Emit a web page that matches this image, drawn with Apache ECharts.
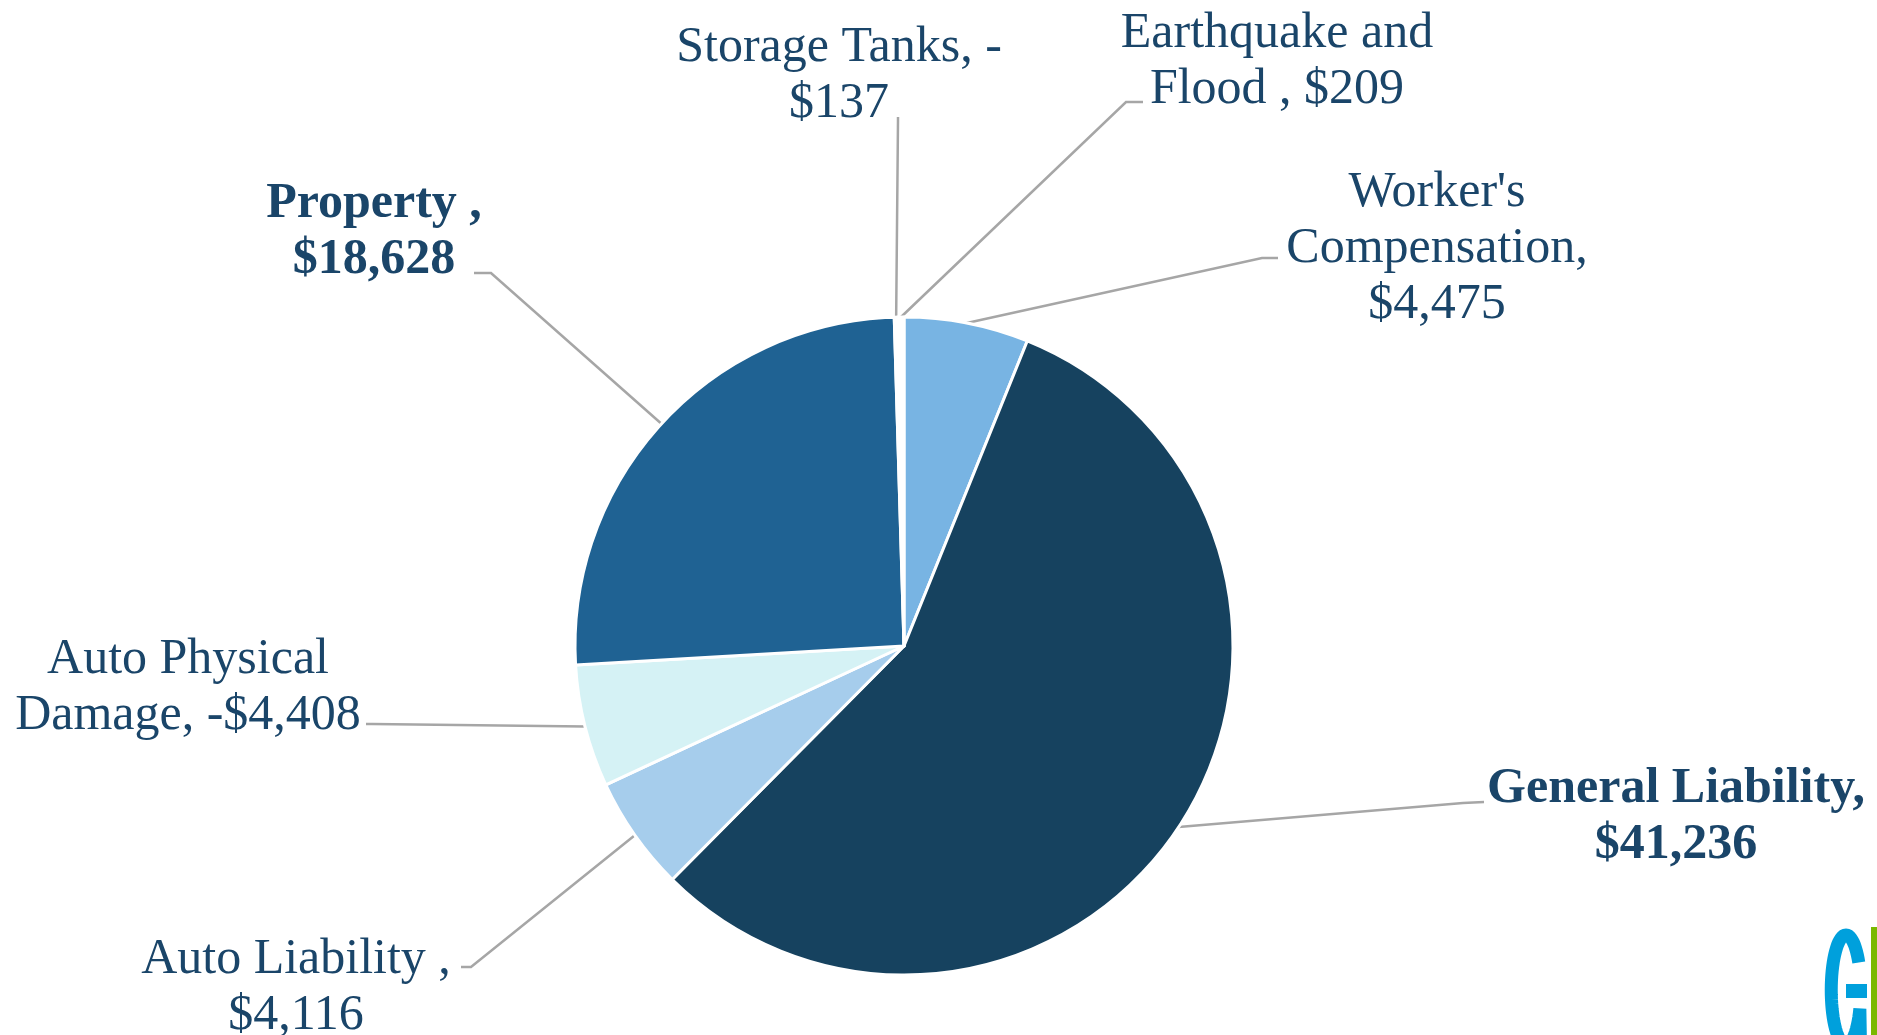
<!DOCTYPE html>
<html>
<head>
<meta charset="utf-8">
<script src="https://cdn.jsdelivr.net/npm/echarts@6/dist/echarts.min.js"></script>
<style>
  html, body { margin: 0; padding: 0; background: #ffffff; }
  #chart { width: 1877px; height: 1035px; }
</style>
</head>
<body>
<div id="chart"></div>
<script>
// ---- data (clockwise from 12 o'clock) ----
const categories = [
  "Worker's\nCompensation",
  "General Liability",
  "Auto Liability ",
  "Auto Physical\nDamage",
  "Property ",
  "Storage Tanks",
  "Earthquake and\nFlood "
];
const values = [4475, 41236, 4116, -4408, 18628, -137, 209];

// ---- styling / layout (not data) ----
const sliceColors = ['#78b4e3', '#16425f', '#a6cdec', '#d5f2f5', '#1f6293', '#ffffff', '#ffffff'];
const boldLabel = [false, true, false, false, true, false, false];
const valueOnNewLine = [true, true, true, false, true, true, false];
// label block centre (x,y), leader elbow (bx,by) and end (ex,ey) in px
const labelPlace = [
  { x: 1437, y: 249, bx: 1262, by: 258, ex: 1278, ey: 258 },
  { x: 1676, y: 817, bx: 1463, by: 803, ex: 1484, ey: 802 },
  { x: 296,  y: 988, bx: 471,  by: 967, ex: 461,  ey: 967 },
  { x: 188,  y: 688, bx: 372,  by: 724, ex: 366,  ey: 724 },
  { x: 374,  y: 232, bx: 491,  by: 273, ex: 474,  ey: 273 },
  { x: 839,  y: 76,  bx: 898,  by: 120, ex: 898,  ey: 117 },
  { x: 1277, y: 62,  bx: 1126, by: 102, ex: 1143, ey: 102 }
];

function money(v) {
  return '$' + Math.abs(v).toLocaleString('en-US');
}
function labelText(i) {
  const v = values[i];
  const sign = v < 0 ? '-' : '';
  const name = categories[i];
  if (valueOnNewLine[i]) {
    return name + ',' + (sign ? ' ' + sign : '') + '\n' + money(v);
  }
  return name + ', ' + sign + money(v);
}

const textColor = '#1a4569';
const data = categories.map(function (c, i) {
  return {
    name: c,
    value: Math.abs(values[i]),
    itemStyle: { color: sliceColors[i] },
    label: {
      formatter: labelText(i),
      fontWeight: boldLabel[i] ? 'bold' : 'normal'
    }
  };
});

// logo outline (decoration): narrow "G" shape
const logoPts = [];
for (let a = -30; a >= -340; a -= 5) {
  const r = a * Math.PI / 180;
  logoPts.push([1846 + 14.75 * Math.cos(r), 990 + 55 * Math.sin(r)]);
}
logoPts.push([1860.5, 1045]);

const chart = echarts.init(document.getElementById('chart'), null, { renderer: 'canvas' });
chart.setOption({
  animation: false,
  backgroundColor: '#ffffff',
  series: [{
    type: 'pie',
    center: [904, 646],
    radius: 329,
    startAngle: 90,
    clockwise: true,
    avoidLabelOverlap: false,
    minAngle: 0,
    itemStyle: { borderColor: '#ffffff', borderWidth: 3 },
    label: {
      show: true,
      position: 'outside',
      color: textColor,
      fontFamily: '"Liberation Serif", "Times New Roman", serif',
      fontSize: 50,
      lineHeight: 56,
      align: 'center'
    },
    labelLine: {
      show: true,
      length: 20,
      length2: 20,
      lineStyle: { color: '#a6a6a6', width: 2.5 }
    },
    labelLayout: function (params) {
      const L = labelPlace[params.dataIndex];
      const pts = params.labelLinePoints;
      const p0 = pts && pts[0] ? pts[0] : [L.bx, L.by];
      return {
        x: L.x,
        y: L.y,
        align: 'center',
        verticalAlign: 'middle',
        labelLinePoints: [p0, [L.bx, L.by], [L.ex, L.ey]]
      };
    },
    emphasis: { disabled: true },
    data: data
  }],
  graphic: [
    {
      type: 'polyline',
      shape: { points: logoPts },
      style: { stroke: '#00a0dc', lineWidth: 13, fill: null, lineJoin: 'miter' },
      silent: true
    },
    {
      type: 'rect',
      shape: { x: 1846, y: 984, width: 21, height: 14 },
      style: { fill: '#00a0dc' },
      silent: true
    },
    {
      type: 'rect',
      shape: { x: 1871, y: 927, width: 6, height: 108 },
      style: { fill: '#7ab800' },
      silent: true
    }
  ]
});
</script>
</body>
</html>
